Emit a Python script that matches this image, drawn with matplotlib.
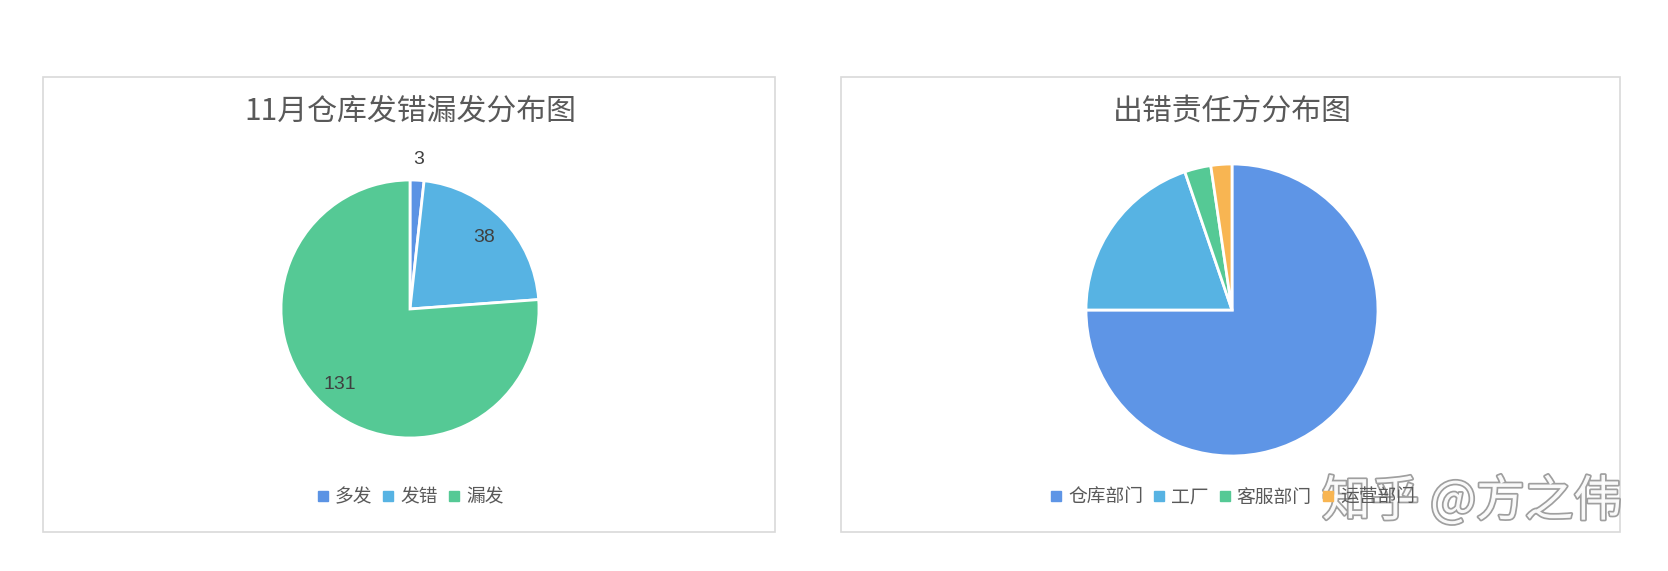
import numpy as np
import matplotlib
matplotlib.use('Agg')
import matplotlib.pyplot as plt
from matplotlib.patches import Rectangle
from matplotlib.lines import Line2D
import matplotlib.patheffects as pe

plt.rcParams['font.family'] = ['Noto Sans CJK SC', 'DejaVu Sans']

# 左图：11月仓库发错漏发
left_title = '11月仓库发错漏发分布图'
left_labels = ['多发', '发错', '漏发']
left_values = [3, 38, 131]
left_colors = ['#5B93E4', '#57B3E3', '#55C995']

# 右图：出错责任方
right_title = '出错责任方分布图'
right_labels = ['仓库部门', '工厂', '客服部门', '运营部门']
right_values = [129, 34, 5, 4]
right_colors = ['#5E95E6', '#57B3E3', '#55C995', '#F8B552']

W, H = 1668, 571
fig = plt.figure(figsize=(W / 100, H / 100), dpi=100)
fig.patch.set_facecolor('white')

text_gray = '#595959'


def px_axes(cx, cy, r):
    # 根据像素中心和半径建立正方形坐标轴
    return fig.add_axes([(cx - r) / W, 1 - (cy + r) / H, 2 * r / W, 2 * r / H])


def panel(x0, x1, y0, y1):
    fig.patches.append(Rectangle((x0 / W, 1 - y1 / H), (x1 - x0) / W, (y1 - y0) / H,
                                 transform=fig.transFigure, facecolor='none',
                                 edgecolor='#D9D9D9', linewidth=1.2, zorder=-1))


def draw_pie(cx, cy, r, values, colors, labels, title, legend_y, show_values):
    ax = px_axes(cx, cy, r)
    wedges, _ = ax.pie(values, colors=colors, startangle=90, counterclock=False,
                       radius=1, wedgeprops=dict(edgecolor='white', linewidth=2))
    ax.set_xlim(-1, 1)
    ax.set_ylim(-1, 1)
    ax.axis('off')
    if show_values:
        for w, v in zip(wedges, values):
            ang = np.deg2rad((w.theta1 + w.theta2) / 2)
            frac = v / sum(values)
            d = 1.16 if frac < 0.05 else 0.80
            ax.text(d * np.cos(ang), d * np.sin(ang), str(v), ha='center', va='center',
                    fontsize=14, color='#404040', family=['Liberation Sans', 'DejaVu Sans'])
    fig.text(cx / W, 1 - 111 / H, title, ha='center', va='center', fontsize=21.5, color=text_gray)
    handles = [Line2D([], [], marker='s', linestyle='none', markersize=6.5,
                      markerfacecolor=c, markeredgecolor=c) for c in colors]
    fig.legend(handles, labels, loc='center', bbox_to_anchor=(cx / W, 1 - legend_y / H),
               ncol=len(labels), frameon=False, fontsize=13.5, labelcolor=text_gray,
               handlelength=0.7, handletextpad=0.3, columnspacing=0.5)
    return ax


panel(43, 775, 77, 532)
panel(841, 1620, 77, 532)

draw_pie(410, 309, 129, left_values, left_colors, left_labels, left_title, 497, True)
draw_pie(1232, 310, 146, right_values, right_colors, right_labels, right_title, 497, False)

# 水印
fig.text(1472 / W, 1 - 502 / H, '知乎 @方之伟', ha='center', va='center', fontsize=35,
         color='white', alpha=0.95,
         path_effects=[pe.withStroke(linewidth=2.5, foreground='#9A9A9A')])

fig.savefig('out.png', dpi=100, facecolor='white')
